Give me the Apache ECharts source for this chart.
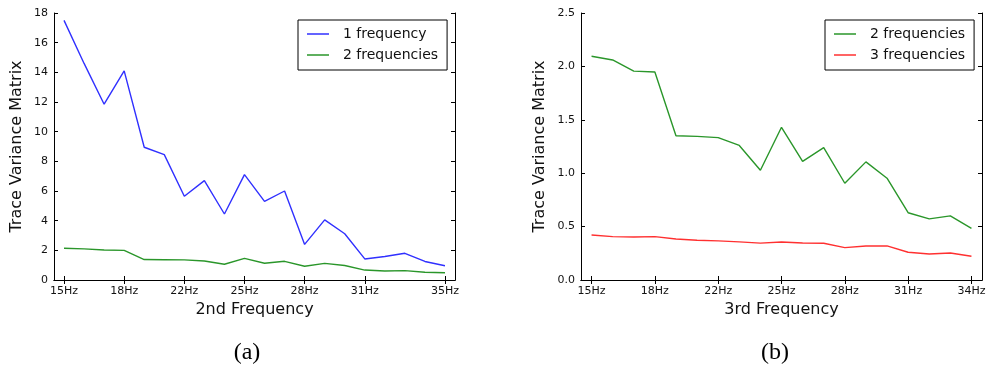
<!DOCTYPE html>
<html>
<head>
<meta charset="utf-8">
<script src="https://cdn.jsdelivr.net/npm/echarts@6/dist/echarts.min.js"></script>
<style>
html,body{margin:0;padding:0;background:#fff;}
#chart{width:990px;height:375px;}
</style>
</head>
<body>
<div id="chart"></div>
<script>
// ---- data ----
const freqA = ['15Hz','16Hz','17Hz','18Hz','19Hz','20Hz','22Hz','23Hz','24Hz','25Hz','26Hz','27Hz','28Hz','29Hz','30Hz','31Hz','32Hz','33Hz','34Hz','35Hz'];
const ticksA = ['15Hz','18Hz','22Hz','25Hz','28Hz','31Hz','35Hz'];
const oneFreqA = [17.5,14.6,11.85,14.1,8.95,8.45,5.65,6.7,4.45,7.1,5.3,6.0,2.4,4.05,3.12,1.42,1.58,1.8,1.25,0.96];
const twoFreqA = [2.14,2.1,2.02,2.0,1.38,1.37,1.36,1.28,1.06,1.46,1.13,1.26,0.93,1.12,0.98,0.67,0.61,0.63,0.52,0.49];
const yTicksA = {min:0, max:18, interval:2};

const freqB = ['15Hz','16Hz','17Hz','18Hz','19Hz','20Hz','22Hz','23Hz','24Hz','25Hz','26Hz','27Hz','28Hz','29Hz','30Hz','31Hz','32Hz','33Hz','34Hz'];
const ticksB = ['15Hz','18Hz','22Hz','25Hz','28Hz','31Hz','34Hz'];
const twoFreqB = [2.095,2.06,1.956,1.947,1.35,1.345,1.333,1.26,1.028,1.43,1.11,1.24,0.906,1.106,0.953,0.63,0.572,0.60,0.484];
const threeFreqB = [0.422,0.406,0.403,0.406,0.384,0.372,0.366,0.357,0.345,0.356,0.347,0.344,0.303,0.319,0.319,0.26,0.244,0.253,0.222];
const yTicksB = {min:0, max:2.5, interval:0.5};

const namesA = ['1 frequency','2 frequencies'];
const namesB = ['2 frequencies','3 frequencies'];

// ---- styling ----
const FONT = 'DejaVu Sans';
const TXT = '#111';
const axisLine = {show:true, lineStyle:{color:'#000', width:1}};
const tickIn = {show:true, inside:true, length:4, lineStyle:{color:'#000', width:1}};

function xAxes(gridIndex, cats, ticks){
  const isTick = (i, v) => ticks.indexOf(v) >= 0;
  return [
    {type:'category', gridIndex, data:cats, boundaryGap:true, position:'bottom',
     axisLine, axisTick:Object.assign({}, tickIn, {alignWithLabel:true, interval:isTick}),
     axisLabel:{interval:isTick, fontFamily:FONT, fontSize:11, color:TXT, margin:6},
     splitLine:{show:false},
     name: gridIndex === 0 ? '2nd Frequency' : '3rd Frequency',
     nameLocation:'middle', nameGap:21,
     nameTextStyle:{fontFamily:FONT, fontSize:16, color:TXT}},
    {type:'category', gridIndex, data:cats, boundaryGap:true, position:'top',
     axisLine, axisTick:Object.assign({}, tickIn, {alignWithLabel:true, interval:isTick}),
     axisLabel:{show:false}, splitLine:{show:false}}
  ];
}
function yAxes(gridIndex, t, fmt, gap){
  return [
    {type:'value', gridIndex, min:t.min, max:t.max, interval:t.interval, position:'left',
     axisLine, axisTick:tickIn,
     axisLabel:{fontFamily:FONT, fontSize:11, color:TXT, margin:6, formatter:fmt},
     splitLine:{show:false},
     name:'Trace Variance Matrix', nameLocation:'middle', nameGap:gap,
     nameTextStyle:{fontFamily:FONT, fontSize:16, color:TXT}},
    {type:'value', gridIndex, min:t.min, max:t.max, interval:t.interval, position:'right',
     axisLine, axisTick:tickIn, axisLabel:{show:false}, splitLine:{show:false}}
  ];
}
function legend(left, names){
  return {orient:'vertical', left, top:20, borderColor:'#000', borderWidth:1,
    padding:[7,9,8,9], itemWidth:22, itemHeight:1.5, itemGap:7,
    icon:'path://M0,0 H22 V1.5 H0 Z',
    textStyle:{fontFamily:FONT, fontSize:14, color:TXT, padding:[0,0,0,9]},
    data:names};
}
function line(name, data, color, xi, yi){
  return {type:'line', name, data, xAxisIndex:xi, yAxisIndex:yi, symbol:'none',
    animation:false, lineStyle:{color, width:1.4}, itemStyle:{color}};
}

const chart = echarts.init(document.getElementById('chart'), null, {renderer:'canvas'});
chart.setOption({
  animation:false,
  backgroundColor:'#fff',
  grid:[
    {left:54, top:13, width:401, height:267},
    {left:581, top:13, width:401, height:267}
  ],
  xAxis:[...xAxes(0, freqA, ticksA), ...xAxes(1, freqB, ticksB)],
  yAxis:[...yAxes(0, yTicksA, v => String(v), 29), ...yAxes(1, yTicksB, v => v.toFixed(1), 33)],
  legend:[legend(298, namesA), legend(825, namesB)],
  series:[
    line(namesA[0], oneFreqA, '#3030ff', 0, 0),
    line(namesA[1], twoFreqA, '#2a962a', 0, 0),
    line(namesB[0], twoFreqB, '#2a962a', 2, 2),
    line(namesB[1], threeFreqB, '#ff3030', 2, 2)
  ],
  graphic:[
    {type:'text', x:247, y:353, style:{text:'(a)', font:'24px "Liberation Serif"', fill:'#000', textAlign:'center', textVerticalAlign:'middle'}},
    {type:'text', x:775, y:353, style:{text:'(b)', font:'24px "Liberation Serif"', fill:'#000', textAlign:'center', textVerticalAlign:'middle'}}
  ]
});
</script>
</body>
</html>
